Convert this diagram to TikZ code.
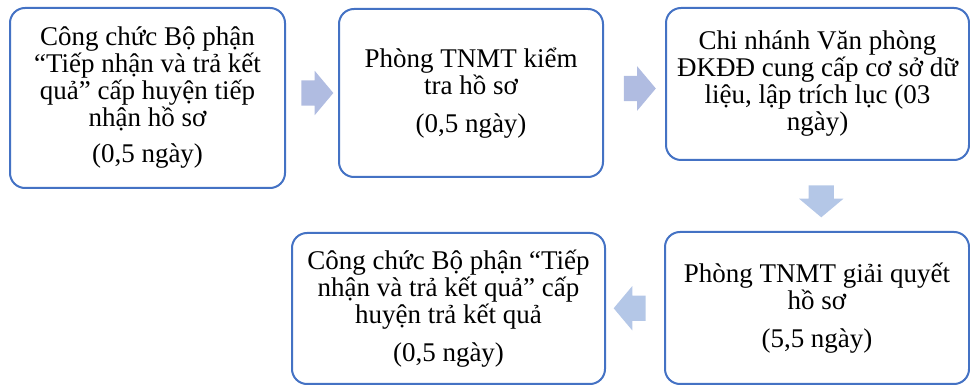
\documentclass[tikz,border=0pt]{standalone}
\usepackage{fontspec}
\setmainfont{Liberation Serif}
\usepackage{tikz}
\usetikzlibrary{shapes.arrows, positioning, calc}
\definecolor{StepBlue}{RGB}{68,114,196}
\definecolor{ArrLav}{RGB}{176,188,225}
\definecolor{ArrBlue}{RGB}{180,199,231}

\begin{document}
\begin{tikzpicture}[x=1pt, y=-1pt,
          stepbox/.style={draw=StepBlue, line width=2pt, fill=white,
                          rounded corners=15pt, align=center, inner sep=0pt,
                          font=\fontsize{27}{27}\selectfont},
          blockarrow/.style={single arrow, draw=none, inner xsep=0pt, inner ysep=12.5pt,
                             minimum height=32pt, minimum width=44pt,
                             single arrow head extend=9.5pt,
                             single arrow tip angle=100}
        ]
        \useasboundingbox (0,0) rectangle (970,387);

        % Steps
        \node[stepbox, minimum width=275pt, minimum height=180pt] (tiepnhan) at (147.5,98)
              {Công chức Bộ phận\\“Tiếp nhận và trả kết\\quả” cấp huyện tiếp\\nhận hồ sơ\\[9pt](0,5 ngày)};
        \node[stepbox, minimum width=264pt, minimum height=168pt] (kiemtra) at (471,93)
              {Phòng TNMT kiểm\\tra hồ sơ\\[11pt](0,5 ngày)};
        \node[stepbox, minimum width=303pt, minimum height=152pt] (trichluc) at (817.5,84)
              {Chi nhánh Văn phòng\\ĐKĐĐ cung cấp cơ sở dữ\\liệu, lập trích lục (03\\ngày)};
        \node[stepbox, minimum width=304pt, minimum height=152pt] (giaiquyet) at (817,308)
              {Phòng TNMT giải quyết\\hồ sơ\\[11pt](5,5 ngày)};
        \node[stepbox, minimum width=313pt, minimum height=151pt] (trakq) at (448.5,308.5)
              {Công chức Bộ phận “Tiếp\\nhận và trả kết quả” cấp\\huyện trả kết quả\\[11pt](0,5 ngày)};

        % Block arrows between steps
        \node[blockarrow, fill=ArrLav] (a1) at ($(tiepnhan.east|-kiemtra.west)!0.5!(kiemtra.west)$) {};
        \node[blockarrow, fill=ArrLav] (a2) at ($(kiemtra.east)!0.5!(trichluc.west)$) {};
        \node[blockarrow, fill=ArrBlue, rotate=-90] (a3) at ($(trichluc.south)!0.5!(giaiquyet.north)+(4,0)$) {};
        \node[blockarrow, fill=ArrBlue, rotate=180] (a4) at ($(giaiquyet.west)!0.5!(trakq.east)$) {};
      \end{tikzpicture}
\end{document}
